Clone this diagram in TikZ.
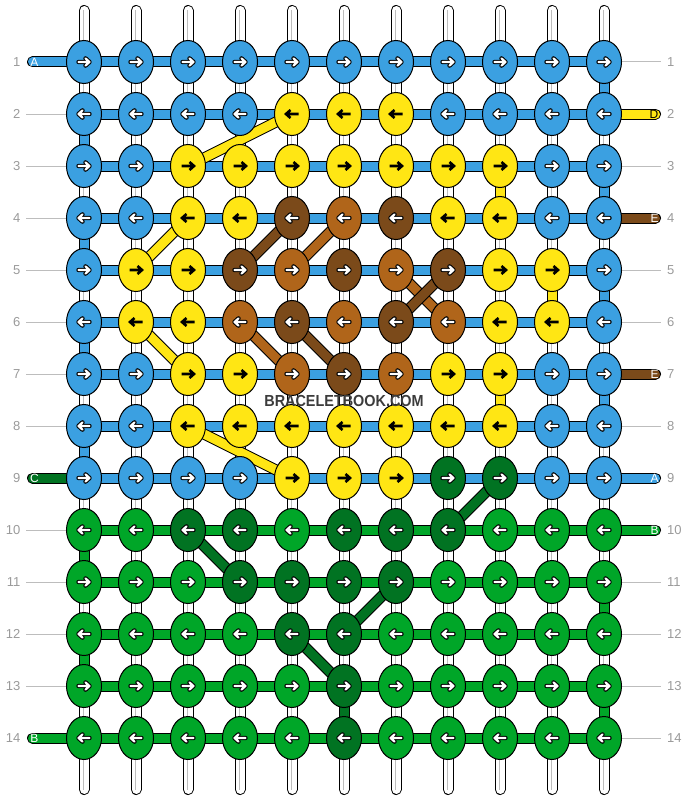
\documentclass[tikz,border=0pt]{standalone}
\usepackage{fontspec}
\setmainfont{Liberation Sans}
\usetikzlibrary{shapes.geometric}
\pgfdeclarelayer{bg}
\pgfsetlayers{bg,main}
\definecolor{cB}{HTML}{3BA0E1}
\definecolor{cY}{HTML}{FFE614}
\definecolor{cD}{HTML}{7B4A1A}
\definecolor{cL}{HTML}{B0651A}
\definecolor{cG}{HTML}{00A628}
\definecolor{cK}{HTML}{017322}
\definecolor{lblgray}{HTML}{9A9A9A}
\definecolor{linegray}{HTML}{BDBDBD}
\definecolor{wmark}{HTML}{3C3C3C}
\newcommand\myband[3]{%
  \draw[line width=11pt,black] (#1) -- (#2);
  \draw[line width=9pt,#3] (#1) -- (#2);}
\newcommand\mylead[3]{%
  \draw[line width=11pt,black,line cap=round] (#1) -- (#2);
  \draw[line width=9pt,#3,line cap=round] (#1) -- (#2);}
\begin{document}
\begin{tikzpicture}[x=1pt,y=-1pt,
  knot/.style={ellipse, draw=black, line width=1pt, minimum width=35pt, minimum height=43pt, inner sep=0pt},
  arrK/.style={line width=2.6pt, black, line cap=butt, line join=miter},
  arrO/.style={line width=4.4pt, black, line cap=round, line join=round},
  arrW/.style={line width=2.2pt, white, line cap=round, line join=round},
  rowlbl/.style={text=lblgray, font=\fontsize{13}{13}\selectfont, inner sep=0pt},
  leadlbl/.style={font=\fontsize{12}{12}\selectfont, inner sep=0pt},
  guide/.style={linegray, line width=1pt}]
\useasboundingbox (0,0) rectangle (688,800);
% knots
\foreach \row [count=\r] in {
 {B,B,B,B,B,B,B,B,B,B,B},
 {B,B,B,B,Y,Y,Y,B,B,B,B},
 {B,B,Y,Y,Y,Y,Y,Y,Y,B,B},
 {B,B,Y,Y,D,L,D,Y,Y,B,B},
 {B,Y,Y,D,L,D,L,D,Y,Y,B},
 {B,Y,Y,L,D,L,D,L,Y,Y,B},
 {B,B,Y,Y,L,D,L,Y,Y,B,B},
 {B,B,Y,Y,Y,Y,Y,Y,Y,B,B},
 {B,B,B,B,Y,Y,Y,K,K,B,B},
 {G,G,K,K,G,K,K,K,G,G,G},
 {G,G,G,K,K,K,K,G,G,G,G},
 {G,G,G,G,K,K,G,G,G,G,G},
 {G,G,G,G,G,K,G,G,G,G,G},
 {G,G,G,G,G,K,G,G,G,G,G}}{
  \foreach \cc [count=\k] in \row {
    \node[knot, fill=c\cc] (n-\r-\k) at ({32+52*\k},{10+52*\r}) {};
    \ifodd\r\relax \def\dir{1}\else \def\dir{-1}\fi
    \begin{scope}[shift={(n-\r-\k.center)}, xscale=\dir]
      \if Y\cc
        \draw[arrK] (-6.5,0) -- (5.5,0) (1.5,-4) -- (6,0) -- (1.5,4);
      \else
        \draw[arrO] (-5.5,0) -- (5.5,0) (1.5,-3.6) -- (5.5,0) -- (1.5,3.6);
        \draw[arrW] (-5.5,0) -- (5.5,0) (1.5,-3.6) -- (5.5,0) -- (1.5,3.6);
      \fi
    \end{scope}
  }
}
\begin{pgfonlayer}{bg}
% white vertical strands
\foreach \k in {1,...,11} {
  \coordinate (top-\k) at ({32+52*\k},10.5);
  \coordinate (bot-\k) at ({32+52*\k},789.5);
  \draw[line width=11pt,black,line cap=round] (top-\k) -- (bot-\k);
  \draw[line width=9pt,white,line cap=round] (top-\k) -- (bot-\k);
  \draw[line width=0.9pt,linegray] ([xshift=-0.8pt]top-\k) -- ([xshift=-0.8pt]bot-\k);
}
% vertical coloured links
\foreach \ra/\rb/\c/\col in {2/3/1/cB,4/5/1/cB,6/7/1/cB,8/9/1/cB,10/11/1/cG,12/13/1/cG,
  1/2/11/cB,3/4/11/cB,5/6/11/cB,7/8/11/cB,11/12/11/cG,13/14/11/cG,
  3/4/9/cY,5/6/10/cY,7/8/9/cY,13/14/6/cK} {
  \myband{n-\ra-\c.center}{n-\rb-\c.center}{\col}
}
% horizontal bands
\foreach \r in {1,...,9} {\myband{n-\r-1.center}{n-\r-11.center}{cB}}
\foreach \r in {10,...,14} {\myband{n-\r-1.center}{n-\r-11.center}{cG}}
% diagonals
\foreach \ra/\ca/\rb/\cb/\col in {2/5/3/3/cY,4/3/5/2/cY,6/2/7/3/cY,8/3/9/5/cY,
  4/5/5/4/cD,4/6/5/5/cL,5/7/6/8/cL,5/8/6/7/cD,6/4/7/5/cL,6/5/7/6/cD,
  9/9/10/8/cK,10/3/11/4/cK,11/7/12/6/cK,12/5/13/6/cK} {
  \myband{n-\ra-\ca.center}{n-\rb-\cb.center}{\col}
}
% guide lines
\foreach \r in {2,3,4,5,6,7,8,10,11,12,13} {
  \coordinate (gl-\r) at (26,{10+52*\r});
  \draw[guide] (gl-\r) -- (n-\r-1.center);
}
\foreach \r in {1,3,5,6,8,11,12,13,14} {
  \coordinate (gr-\r) at (661,{10+52*\r});
  \draw[guide] (n-\r-11.center) -- (gr-\r);
}
% leads
\foreach \r/\col in {1/cB,9/cK,14/cG} {
  \coordinate (ld-\r) at (32.5,{10+52*\r});
  \mylead{ld-\r}{n-\r-1.center}{\col}
}
\foreach \r/\col in {2/cY,4/cD,7/cD,9/cB,10/cG} {
  \coordinate (rd-\r) at (655.5,{10+52*\r});
  \mylead{n-\r-11.center}{rd-\r}{\col}
}
\end{pgfonlayer}
% lead letters
\node[leadlbl, text=white] at (ld-1) [xshift=2pt] {A};
\node[leadlbl, text=white] at (ld-9) [xshift=2pt] {C};
\node[leadlbl, text=white] at (ld-14) [xshift=2pt] {B};
\node[leadlbl, text=black] at (rd-2) [xshift=-1.5pt] {D};
\node[leadlbl, text=white] at (rd-4) [xshift=-1pt] {E};
\node[leadlbl, text=white] at (rd-7) [xshift=-1pt] {E};
\node[leadlbl, text=white] at (rd-9) [xshift=-1pt] {A};
\node[leadlbl, text=white] at (rd-10) [xshift=-1pt] {B};
% row numbers
\foreach \r in {1,...,14} {
  \node[rowlbl, anchor=east] (lnum-\r) at (20.5,{10+52*\r}) {\r};
  \node[rowlbl, anchor=west] (rnum-\r) at (667,{10+52*\r}) {\r};
}
% watermark
\node[text=wmark, inner sep=0pt] (wm) at (344,401) {\scalebox{0.9}[1]{\fontsize{16}{16}\selectfont\bfseries BRACELETBOOK.COM}};
\end{tikzpicture}
\end{document}
